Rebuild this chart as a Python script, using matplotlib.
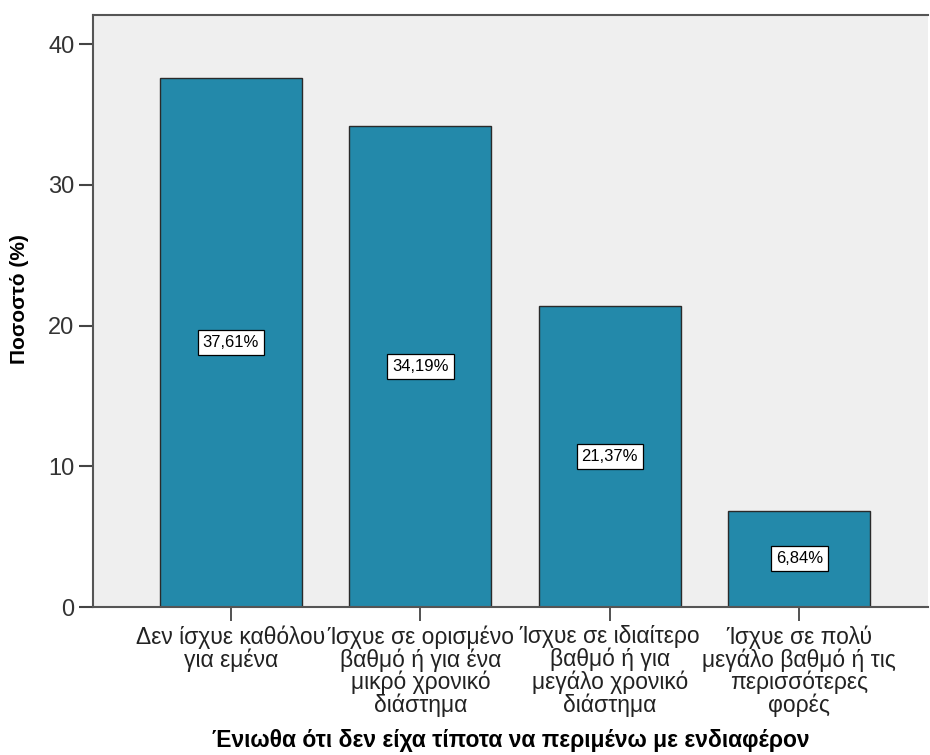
import matplotlib.pyplot as plt

categories = [
    "Δεν ίσχυε καθόλου\nγια εμένα",
    "Ίσχυε σε ορισμένο\nβαθμό ή για ένα\nμικρό χρονικό\nδιάστημα",
    "Ίσχυε σε ιδιαίτερο\nβαθμό ή για\nμεγάλο χρονικό\nδιάστημα",
    "Ίσχυε σε πολύ\nμεγάλο βαθμό ή τις\nπερισσότερες\nφορές",
]
percent = [37.61, 34.19, 21.37, 6.84]
yticks = [0, 10, 20, 30, 40]

plt.rcParams['font.family'] = ['Liberation Sans', 'DejaVu Sans']

fig = plt.figure(figsize=(9.3, 7.55), dpi=100)
ax = fig.add_axes([0.1, 0.196, 0.898, 0.784])
ax.set_facecolor('#efefef')

x = range(len(categories))
ax.bar(x, percent, width=0.75, color='#2389aa', edgecolor='#2a2a2a', linewidth=1.0, zorder=2)

for i, v in zip(x, percent):
    ax.text(i, v / 2, f"{v:.2f}%".replace('.', ','), ha='center', va='center',
            fontsize=12, color='black', zorder=3,
            bbox=dict(boxstyle='square,pad=0.3', facecolor='white', edgecolor='black', linewidth=0.9))

ax.set_xlim(-0.728, 3.68)
ax.set_ylim(0, 42.06)
ax.set_yticks(yticks)
ax.set_xticks(list(x))
ax.set_xticklabels(categories, fontsize=16.5, color='#222222', linespacing=0.97)
ax.tick_params(axis='y', labelsize=17, length=10, width=1.5, color='#444444', labelcolor='#333333')
ax.tick_params(axis='x', length=10, width=1.2, color='#333333', pad=3)

for s in ['left', 'bottom', 'top']:
    ax.spines[s].set_color('#555555')
    ax.spines[s].set_linewidth(1.5)
ax.spines['right'].set_visible(False)

ax.set_ylabel("Ποσοστό (%)", fontsize=15, fontweight='bold')
ax.yaxis.set_label_coords(-0.077, 0.52)
ax.set_xlabel("Ένιωθα ότι δεν είχα τίποτα να περιμένω με ενδιαφέρον", fontsize=16.5,
              fontweight='bold', labelpad=8)

plt.savefig("out.png", dpi=100)
